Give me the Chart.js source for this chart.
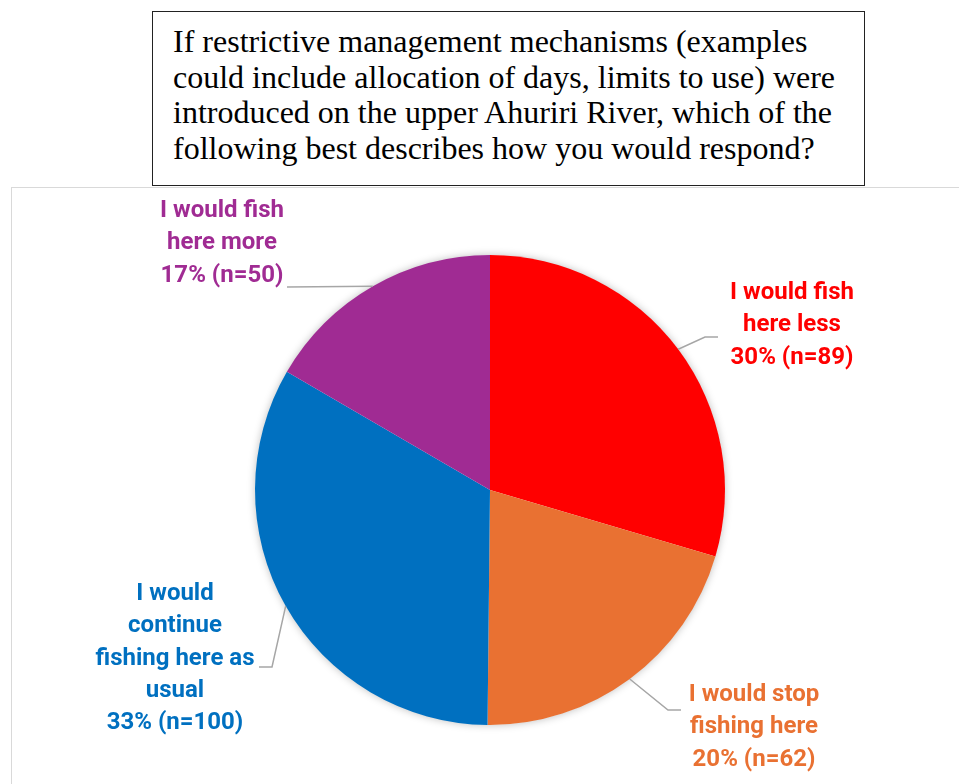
<!DOCTYPE html>
<html>
<head>
<meta charset="utf-8">
<script src="https://cdn.jsdelivr.net/npm/chart.js@4/dist/chart.umd.min.js"></script>
<style>
  html, body { margin: 0; padding: 0; background: #ffffff; }
  body { width: 959px; height: 784px; position: relative; overflow: hidden; }
  #frame {
    position: absolute; left: 11px; top: 187px; width: 1000px; height: 700px;
    border: 1px solid #d9d9d9; box-sizing: border-box;
  }
  #question {
    position: absolute; left: 152px; top: 11px; width: 713px; height: 175px;
    border: 1.5px solid #222; box-sizing: border-box; background: #fff;
    font-family: "Liberation Serif", "Times New Roman", serif;
    font-size: 32px; line-height: 35.5px; color: #000;
    padding: 12px 0 0 20px; white-space: nowrap;
  }
  #chart { position: absolute; left: 0; top: 0; }
</style>
</head>
<body>
<div id="frame"></div>
<div id="question">If restrictive management mechanisms (examples<br>could include allocation of days, limits to use) were<br>introduced on the upper Ahuriri River, which of the<br>following best describes how you would respond?</div>
<canvas id="chart" width="959" height="784"></canvas>
<script>
// Survey responses, clockwise from 12 o'clock
const categories = [
  ["I would fish", "here less"],
  ["I would stop", "fishing here"],
  ["I would", "continue", "fishing here as", "usual"],
  ["I would fish", "here more"]
];
const responses = [89, 62, 100, 50];
const percentLabels = [30, 20, 33, 17];
const sliceColors = ["#FF0000", "#E97132", "#0070C0", "#A02B93"];

// Where each callout sits: text block centre (first line), and leader line bend/end points
const calloutLayout = [
  { tx: 792, ty: 293, bend: [705, 337], end: [718, 337] },
  { tx: 754, ty: 695, bend: [668, 710], end: [681, 710] },
  { tx: 175, ty: 594, bend: [272, 667], end: [259, 667] },
  { tx: 222, ty: 211, bend: [287, 287], end: [287, 287] }
];

const pieShadow = {
  id: 'pieShadow',
  beforeDatasetsDraw(chart) {
    const arc = chart.getDatasetMeta(0).data[0];
    if (!arc) return;
    const ctx = chart.ctx;
    ctx.save();
    ctx.shadowColor = 'rgba(0,0,0,0.28)';
    ctx.shadowBlur = 9;
    ctx.fillStyle = '#ffffff';
    ctx.beginPath();
    ctx.arc(arc.x, arc.y, arc.outerRadius - 0.5, 0, Math.PI * 2);
    ctx.fill();
    ctx.restore();
  }
};

const callouts = {
  id: 'callouts',
  afterDatasetsDraw(chart) {
    const ctx = chart.ctx;
    const meta = chart.getDatasetMeta(0);
    meta.data.forEach((arc, i) => {
      const lay = calloutLayout[i];
      const mid = (arc.startAngle + arc.endAngle) / 2;
      const sx = arc.x + Math.cos(mid) * arc.outerRadius;
      const sy = arc.y + Math.sin(mid) * arc.outerRadius;
      ctx.save();
      ctx.strokeStyle = '#a6a6a6';
      ctx.lineWidth = 1.5;
      ctx.beginPath();
      ctx.moveTo(sx, sy);
      ctx.lineTo(lay.bend[0], lay.bend[1]);
      ctx.lineTo(lay.end[0], lay.end[1]);
      ctx.stroke();

      const lines = categories[i].concat([percentLabels[i] + '% (n=' + responses[i] + ')']);
      ctx.fillStyle = sliceColors[i];
      ctx.font = 'bold 24px Roboto, "Liberation Sans", sans-serif';
      ctx.textAlign = 'center';
      ctx.textBaseline = 'middle';
      lines.forEach((ln, k) => ctx.fillText(ln, lay.tx, lay.ty + k * 32.3));
      ctx.restore();
    });
  }
};

new Chart(document.getElementById('chart'), {
  type: 'pie',
  data: {
    labels: categories.map(c => c.join(' ')),
    datasets: [{
      data: responses,
      backgroundColor: sliceColors,
      borderWidth: 0
    }]
  },
  options: {
    responsive: false,
    animation: false,
    layout: { padding: { left: 255, right: 234, top: 255, bottom: 59 } },
    plugins: {
      legend: { display: false },
      tooltip: { enabled: false }
    }
  },
  plugins: [pieShadow, callouts]
});
</script>
</body>
</html>
